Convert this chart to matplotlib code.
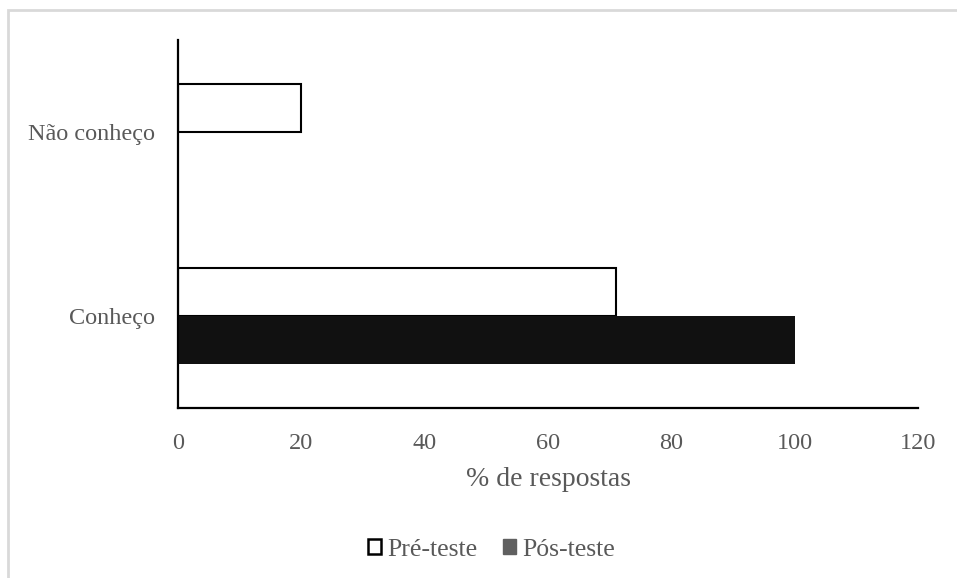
import numpy as np
import matplotlib.pyplot as plt
from matplotlib.patches import Patch, Rectangle

plt.rcParams['font.family'] = ['Liberation Serif', 'DejaVu Serif']

categorias = ['Conheço', 'Não conheço']
pre_teste = [71, 20]
pos_teste = [100, 0]
xticks = [0, 20, 40, 60, 80, 100, 120]

cinza = '#595959'
fig = plt.figure(figsize=(9.57, 5.78), dpi=100)
ax = fig.add_axes([0.186, 0.2941, 0.7733, 0.6367])

y = np.arange(len(categorias))
h = 0.26
ax.barh(y + h / 2, pre_teste, height=h, color='white', edgecolor='black', linewidth=1.5)
ax.barh(y - h / 2, pos_teste, height=h, color='#111111', edgecolor='#111111', linewidth=0)

ax.set_xlim(0, 120)
ax.set_ylim(-0.5, 1.5)
ax.set_xticks(xticks)
ax.set_yticks(y)
ax.set_yticklabels(categorias)
ax.tick_params(length=0, labelsize=17.5, colors=cinza)
ax.tick_params(axis='x', pad=18)
ax.tick_params(axis='y', pad=16.5)
for s in ['top', 'right']:
    ax.spines[s].set_visible(False)
for s in ['left', 'bottom']:
    ax.spines[s].set_linewidth(1.6)
    ax.spines[s].set_color('black')
ax.set_xlabel('% de respostas', fontsize=20, color=cinza, labelpad=9)

handles = [Patch(facecolor='white', edgecolor='black', linewidth=1.8, label='Pré-teste'),
           Patch(facecolor='#606060', edgecolor='#606060', label='Pós-teste')]
fig.legend(handles=handles, loc='center', bbox_to_anchor=(0.514, 0.049), ncol=2, frameon=False,
           fontsize=18.5, labelcolor=cinza, handlelength=0.5, handleheight=0.5,
           handletextpad=0.25, columnspacing=1.0)

# moldura cinza clara em volta do gráfico
fig.patches.append(Rectangle((8 / 957, -0.1), 1.2, 1 - 9.5 / 578 + 0.1, transform=fig.transFigure,
                             fill=False, edgecolor='#d9d9d9', linewidth=2, zorder=0))

fig.savefig('out.png', dpi=100)
